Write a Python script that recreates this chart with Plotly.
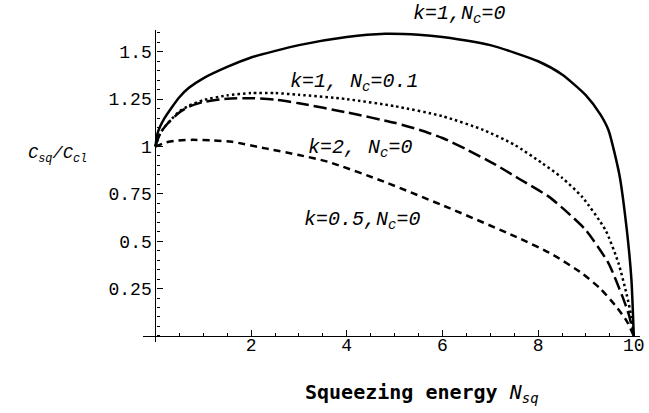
import plotly.graph_objects as go

# ---- data ----
x_k1_nc0 = [0, 0.05, 0.19, 0.5, 0.7, 1, 1.5, 2, 3, 4, 4.8, 5.5, 6, 7, 8, 8.5, 9, 9.3, 9.47, 9.7, 9.855, 9.95, 10]
y_k1_nc0 = [1, 1.075, 1.15, 1.26, 1.31, 1.36, 1.42, 1.47, 1.535, 1.578, 1.595, 1.59, 1.578, 1.535, 1.45, 1.38, 1.27, 1.17, 1.087, 0.85, 0.558, 0.3, 0]

x_k1_nc01 = [0, 0.1, 0.25, 0.5, 0.7, 1, 1.5, 2, 2.5, 3, 4, 5, 6, 6.86, 7.5, 8.09, 8.5, 8.92, 9.41, 9.68, 9.85, 9.95, 10]
y_k1_nc01 = [1, 1.07, 1.12, 1.185, 1.215, 1.245, 1.27, 1.282, 1.282, 1.273, 1.25, 1.213, 1.16, 1.087, 1.01, 0.911, 0.835, 0.734, 0.558, 0.384, 0.22, 0.1, 0]

x_k2_nc0 = [0, 0.1, 0.25, 0.5, 0.7, 1, 1.5, 2, 2.5, 3, 4, 5, 5.53, 6, 6.5, 7.06, 7.6, 8.23, 8.6, 9, 9.47, 9.76, 9.9, 10]
y_k2_nc0 = [1, 1.07, 1.12, 1.18, 1.21, 1.235, 1.252, 1.255, 1.247, 1.228, 1.18, 1.125, 1.087, 1.045, 0.985, 0.911, 0.83, 0.734, 0.655, 0.558, 0.384, 0.21, 0.11, 0]

x_k05_nc0 = [0, 0.2, 0.4, 0.77, 1.2, 1.6, 2.3, 3, 3.6, 4.78, 6.16, 7.54, 8.3, 8.92, 9.3, 9.61, 9.85, 10]
y_k05_nc0 = [1, 1.02, 1.03, 1.035, 1.032, 1.025, 0.99, 0.955, 0.92, 0.814, 0.673, 0.523, 0.43, 0.33, 0.25, 0.162, 0.08, 0]

x_ticks = [2, 4, 6, 8, 10]
y_ticks = [0.25, 0.5, 0.75, 1, 1.25, 1.5]
y_ticklabels = ["0.25", "0.5", "0.75", "1", "1.25", "1.5"]

curve_labels = ["k=1,N<sub>c</sub>=0", "k=1, N<sub>c</sub>=0.1", "k=2, N<sub>c</sub>=0", "k=0.5,N<sub>c</sub>=0"]
# label centres in paper fractions
label_px = [0.635, 0.424, 0.436, 0.44]
label_py = [1.05, 0.832, 0.62, 0.39]

XR = [-0.26, 10.13]
YR = [-0.032, 1.615]

fig = go.Figure()
styles = [
    (x_k1_nc0, y_k1_nc0, "solid", 2.5),
    (x_k1_nc01, y_k1_nc01, "2.5px,3px", 2.5),
    (x_k2_nc0, y_k2_nc0, "13px,5px", 2.5),
    (x_k05_nc0, y_k05_nc0, "7px,5px", 2.5),
]
for xs, ys, dash, w in styles:
    fig.add_trace(go.Scatter(x=xs, y=ys, mode="lines",
                             line=dict(color="black", width=w, dash=dash, shape="spline", smoothing=0.6),
                             showlegend=False, hoverinfo="skip"))

tickfont = dict(family="Liberation Mono", size=18, color="black")
fig.update_layout(
    width=649, height=413,
    margin=dict(l=143, r=4, t=30, b=71),
    paper_bgcolor="white", plot_bgcolor="white",
    xaxis=dict(range=XR, anchor="free", position=(0 - YR[0]) / (YR[1] - YR[0]),
               showline=True, linecolor="black", linewidth=1.2, showgrid=False, zeroline=False,
               tickmode="array", tickvals=x_ticks, ticktext=[str(v) for v in x_ticks],
               ticks="inside", ticklen=6, tickcolor="black", tickwidth=1,
               ticklabeloverflow="allow", ticklabelstandoff=-8,
               minor=dict(tickmode="linear", tick0=0, dtick=0.5, ticks="inside", ticklen=3, tickcolor="black"),
               tickfont=tickfont),
    yaxis=dict(range=YR, anchor="free", position=(0 - XR[0]) / (XR[1] - XR[0]),
               showline=True, linecolor="black", linewidth=1.2, showgrid=False, zeroline=False,
               tickmode="array", tickvals=y_ticks, ticktext=y_ticklabels,
               ticks="inside", ticklen=6, tickcolor="black", tickwidth=1,
               ticklabeloverflow="allow",
               minor=dict(tickmode="linear", tick0=0, dtick=0.05, ticks="inside", ticklen=3, tickcolor="black"),
               tickfont=tickfont),
)

for t, lx, ly in zip(curve_labels, label_px, label_py):
    fig.add_annotation(x=lx, y=ly, xref="paper", yref="paper", xanchor="center", yanchor="middle",
                       text="<i>" + t + "</i>", showarrow=False,
                       font=dict(family="Liberation Mono", size=20, color="black"))

fig.add_annotation(x=0.562, y=-0.163, xref="paper", yref="paper", xanchor="center", yanchor="middle",
                   showarrow=False,
                   text="<b>Squeezing energy</b> <i>N<sub>sq</sub></i>",
                   font=dict(family="DejaVu Sans Mono", size=20, color="black"))
fig.add_annotation(x=-0.173, y=0.599, xref="paper", yref="paper", xanchor="center", yanchor="middle",
                   showarrow=False,
                   text="<i>C<sub>sq</sub>/C<sub>cl</sub></i>",
                   font=dict(family="Liberation Mono", size=17, color="black"))

fig.write_html("out.html", config={"displayModeBar": False},
               post_script="document.body.style.margin='0';")
